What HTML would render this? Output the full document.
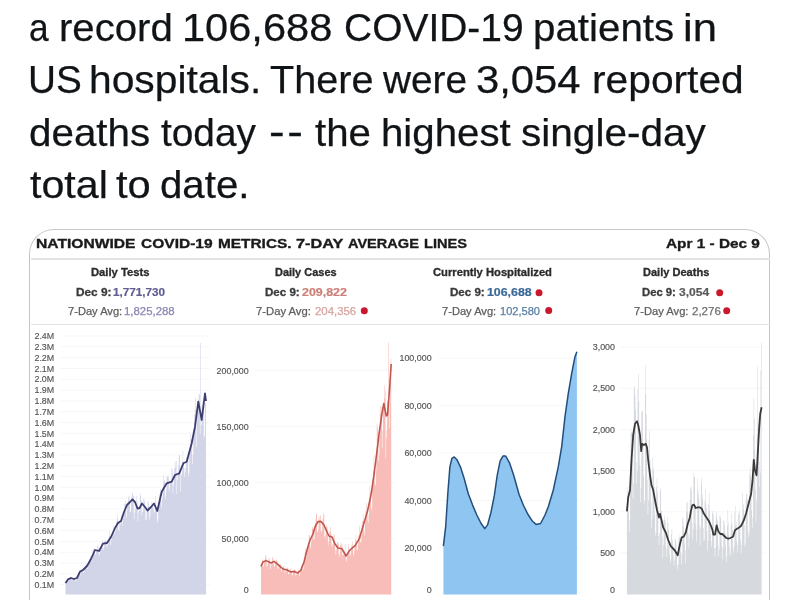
<!DOCTYPE html>
<html><head><meta charset="utf-8"><style>
html,body{margin:0;padding:0;background:#fff;}
body{width:800px;height:600px;overflow:hidden;position:relative;filter:blur(0.35px);}
.a{position:absolute;font-family:"Liberation Sans",sans-serif;white-space:nowrap;}
.card{position:absolute;left:29.1px;top:229.2px;width:738.9px;height:420px;border:1.9px solid #bdc6cb;border-top-color:#c6c9cb;border-radius:25px 25px 0 0;background:#fff;}
.sep{position:absolute;left:31px;width:739px;height:1.5px;background:#e3e3e3;}
#ch{position:absolute;left:0;top:0;}
</style></head><body>
<div class="card"></div>
<div class="sep" style="top:258px"></div>
<div class="sep" style="top:323.5px"></div>
<svg id="ch" width="800" height="600" viewBox="0 0 800 600"><g stroke="#f7f7f8" stroke-width="1"><line x1="60" x2="210" y1="336.0" y2="336.0"/><line x1="60" x2="210" y1="346.8" y2="346.8"/><line x1="60" x2="210" y1="357.6" y2="357.6"/><line x1="60" x2="210" y1="368.4" y2="368.4"/><line x1="60" x2="210" y1="379.2" y2="379.2"/><line x1="60" x2="210" y1="390.1" y2="390.1"/><line x1="60" x2="210" y1="400.9" y2="400.9"/><line x1="60" x2="210" y1="411.7" y2="411.7"/><line x1="60" x2="210" y1="422.5" y2="422.5"/><line x1="60" x2="210" y1="433.3" y2="433.3"/><line x1="60" x2="210" y1="444.1" y2="444.1"/><line x1="60" x2="210" y1="454.9" y2="454.9"/><line x1="60" x2="210" y1="465.7" y2="465.7"/><line x1="60" x2="210" y1="476.5" y2="476.5"/><line x1="60" x2="210" y1="487.3" y2="487.3"/><line x1="60" x2="210" y1="498.1" y2="498.1"/><line x1="60" x2="210" y1="509.0" y2="509.0"/><line x1="60" x2="210" y1="519.8" y2="519.8"/><line x1="60" x2="210" y1="530.6" y2="530.6"/><line x1="60" x2="210" y1="541.4" y2="541.4"/><line x1="60" x2="210" y1="552.2" y2="552.2"/><line x1="60" x2="210" y1="563.0" y2="563.0"/><line x1="60" x2="210" y1="573.8" y2="573.8"/><line x1="60" x2="210" y1="584.6" y2="584.6"/><line x1="255" x2="395" y1="370.5" y2="370.5"/><line x1="255" x2="395" y1="426.6" y2="426.6"/><line x1="255" x2="395" y1="482.7" y2="482.7"/><line x1="255" x2="395" y1="538.8" y2="538.8"/><line x1="438" x2="580" y1="358.2" y2="358.2"/><line x1="438" x2="580" y1="405.6" y2="405.6"/><line x1="438" x2="580" y1="453.0" y2="453.0"/><line x1="438" x2="580" y1="500.4" y2="500.4"/><line x1="438" x2="580" y1="547.8" y2="547.8"/><line x1="620" x2="765" y1="347.0" y2="347.0"/><line x1="620" x2="765" y1="388.2" y2="388.2"/><line x1="620" x2="765" y1="429.4" y2="429.4"/><line x1="620" x2="765" y1="470.6" y2="470.6"/><line x1="620" x2="765" y1="511.8" y2="511.8"/><line x1="620" x2="765" y1="553.0" y2="553.0"/></g>
<path d="M65.50,594.5V582.2H66.06V594.5ZM66.06,594.5V580.7H66.61V594.5ZM66.61,594.5V580.1H67.17V594.5ZM67.17,594.5V580.0H67.72V594.5ZM67.72,594.5V581.5H68.28V594.5ZM68.28,594.5V580.9H68.83V594.5ZM68.83,594.5V579.3H69.39V594.5ZM69.39,594.5V577.3H69.94V594.5ZM69.94,594.5V577.6H70.50V594.5ZM70.50,594.5V577.2H71.05V594.5ZM71.05,594.5V577.0H71.61V594.5ZM71.61,594.5V580.0H72.16V594.5ZM72.16,594.5V579.7H72.72V594.5ZM72.72,594.5V579.7H73.27V594.5ZM73.27,594.5V578.4H73.83V594.5ZM73.83,594.5V577.4H74.39V594.5ZM74.39,594.5V578.4H74.94V594.5ZM74.94,594.5V578.1H75.50V594.5ZM75.50,594.5V581.4H76.05V594.5ZM76.05,594.5V580.3H76.61V594.5ZM76.61,594.5V579.7H77.16V594.5ZM77.16,594.5V576.7H77.72V594.5ZM77.72,594.5V575.6H78.27V594.5ZM78.27,594.5V572.9H78.83V594.5ZM78.83,594.5V572.3H79.38V594.5ZM79.38,594.5V575.1H79.94V594.5ZM79.94,594.5V575.5H80.49V594.5ZM80.49,594.5V572.4H81.05V594.5ZM81.05,594.5V570.2H81.60V594.5ZM81.60,594.5V568.8H82.16V594.5ZM82.16,594.5V570.0H82.72V594.5ZM82.72,594.5V569.3H83.27V594.5ZM83.27,594.5V573.3H83.83V594.5ZM83.83,594.5V571.7H84.38V594.5ZM84.38,594.5V568.0H84.94V594.5ZM84.94,594.5V567.9H85.49V594.5ZM85.49,594.5V565.4H86.05V594.5ZM86.05,594.5V563.4H86.60V594.5ZM86.60,594.5V565.4H87.16V594.5ZM87.16,594.5V568.9H87.71V594.5ZM87.71,594.5V566.6H88.27V594.5ZM88.27,594.5V564.2H88.82V594.5ZM88.82,594.5V563.0H89.38V594.5ZM89.38,594.5V558.9H89.93V594.5ZM89.93,594.5V555.6H90.49V594.5ZM90.49,594.5V559.9H91.05V594.5ZM91.05,594.5V561.5H91.60V594.5ZM91.60,594.5V559.9H92.16V594.5ZM92.16,594.5V557.9H92.71V594.5ZM92.71,594.5V550.0H93.27V594.5ZM93.27,594.5V549.0H93.82V594.5ZM93.82,594.5V550.8H94.38V594.5ZM94.38,594.5V548.5H94.93V594.5ZM94.93,594.5V554.5H95.49V594.5ZM95.49,594.5V554.0H96.04V594.5ZM96.04,594.5V550.5H96.60V594.5ZM96.60,594.5V549.3H97.15V594.5ZM97.15,594.5V546.3H97.71V594.5ZM97.71,594.5V544.5H98.26V594.5ZM98.26,594.5V549.9H98.82V594.5ZM98.82,594.5V555.7H99.38V594.5ZM99.38,594.5V554.1H99.93V594.5ZM99.93,594.5V549.9H100.49V594.5ZM100.49,594.5V548.6H101.04V594.5ZM101.04,594.5V544.5H101.60V594.5ZM101.60,594.5V542.2H102.15V594.5ZM102.15,594.5V540.3H102.71V594.5ZM102.71,594.5V547.7H103.26V594.5ZM103.26,594.5V550.1H103.82V594.5ZM103.82,594.5V546.5H104.37V594.5ZM104.37,594.5V540.5H104.93V594.5ZM104.93,594.5V544.1H105.48V594.5ZM105.48,594.5V540.1H106.04V594.5ZM106.04,594.5V540.7H106.59V594.5ZM106.59,594.5V546.9H107.15V594.5ZM107.15,594.5V545.2H107.71V594.5ZM107.71,594.5V543.8H108.26V594.5ZM108.26,594.5V539.9H108.82V594.5ZM108.82,594.5V536.6H109.37V594.5ZM109.37,594.5V530.9H109.93V594.5ZM109.93,594.5V536.4H110.48V594.5ZM110.48,594.5V544.8H111.04V594.5ZM111.04,594.5V540.2H111.59V594.5ZM111.59,594.5V537.1H112.15V594.5ZM112.15,594.5V532.5H112.70V594.5ZM112.70,594.5V531.2H113.26V594.5ZM113.26,594.5V526.3H113.81V594.5ZM113.81,594.5V528.0H114.37V594.5ZM114.37,594.5V534.0H114.92V594.5ZM114.92,594.5V531.4H115.48V594.5ZM115.48,594.5V528.8H116.04V594.5ZM116.04,594.5V521.9H116.59V594.5ZM116.59,594.5V521.0H117.15V594.5ZM117.15,594.5V515.1H117.70V594.5ZM117.70,594.5V519.5H118.26V594.5ZM118.26,594.5V529.8H118.81V594.5ZM118.81,594.5V531.5H119.37V594.5ZM119.37,594.5V523.1H119.92V594.5ZM119.92,594.5V524.4H120.48V594.5ZM120.48,594.5V522.4H121.03V594.5ZM121.03,594.5V515.1H121.59V594.5ZM121.59,594.5V517.5H122.14V594.5ZM122.14,594.5V525.6H122.70V594.5ZM122.70,594.5V514.9H123.25V594.5ZM123.25,594.5V518.5H123.81V594.5ZM123.81,594.5V511.4H124.37V594.5ZM124.37,594.5V503.9H124.92V594.5ZM124.92,594.5V500.6H125.48V594.5ZM125.48,594.5V504.2H126.03V594.5ZM126.03,594.5V517.8H126.59V594.5ZM126.59,594.5V510.1H127.14V594.5ZM127.14,594.5V505.5H127.70V594.5ZM127.70,594.5V505.2H128.25V594.5ZM128.25,594.5V497.4H128.81V594.5ZM128.81,594.5V495.4H129.36V594.5ZM129.36,594.5V501.8H129.92V594.5ZM129.92,594.5V512.1H130.47V594.5ZM130.47,594.5V511.6H131.03V594.5ZM131.03,594.5V499.9H131.58V594.5ZM131.58,594.5V496.4H132.14V594.5ZM132.14,594.5V492.4H132.70V594.5ZM132.70,594.5V494.8H133.25V594.5ZM133.25,594.5V496.3H133.81V594.5ZM133.81,594.5V518.9H134.36V594.5ZM134.36,594.5V512.9H134.92V594.5ZM134.92,594.5V504.0H135.47V594.5ZM135.47,594.5V509.2H136.03V594.5ZM136.03,594.5V495.9H136.58V594.5ZM136.58,594.5V506.4H137.14V594.5ZM137.14,594.5V501.2H137.69V594.5ZM137.69,594.5V521.3H138.25V594.5ZM138.25,594.5V512.7H138.80V594.5ZM138.80,594.5V510.3H139.36V594.5ZM139.36,594.5V510.8H139.92V594.5ZM139.92,594.5V496.1H140.47V594.5ZM140.47,594.5V493.2H141.03V594.5ZM141.03,594.5V500.6H141.58V594.5ZM141.58,594.5V515.5H142.14V594.5ZM142.14,594.5V511.8H142.69V594.5ZM142.69,594.5V510.7H143.25V594.5ZM143.25,594.5V498.6H143.80V594.5ZM143.80,594.5V501.8H144.36V594.5ZM144.36,594.5V499.7H144.91V594.5ZM144.91,594.5V505.8H145.47V594.5ZM145.47,594.5V520.3H146.02V594.5ZM146.02,594.5V519.7H146.58V594.5ZM146.58,594.5V508.0H147.13V594.5ZM147.13,594.5V508.4H147.69V594.5ZM147.69,594.5V500.6H148.25V594.5ZM148.25,594.5V502.6H148.80V594.5ZM148.80,594.5V507.1H149.36V594.5ZM149.36,594.5V519.7H149.91V594.5ZM149.91,594.5V516.5H150.47V594.5ZM150.47,594.5V509.8H151.02V594.5ZM151.02,594.5V505.4H151.58V594.5ZM151.58,594.5V500.9H152.13V594.5ZM152.13,594.5V503.5H152.69V594.5ZM152.69,594.5V503.3H153.24V594.5ZM153.24,594.5V509.6H153.80V594.5ZM153.80,594.5V513.2H154.35V594.5ZM154.35,594.5V511.3H154.91V594.5ZM154.91,594.5V502.3H155.46V594.5ZM155.46,594.5V496.1H156.02V594.5ZM156.02,594.5V507.2H156.58V594.5ZM156.58,594.5V506.5H157.13V594.5ZM157.13,594.5V522.5H157.69V594.5ZM157.69,594.5V520.6H158.24V594.5ZM158.24,594.5V505.8H158.80V594.5ZM158.80,594.5V500.6H159.35V594.5ZM159.35,594.5V493.9H159.91V594.5ZM159.91,594.5V493.8H160.46V594.5ZM160.46,594.5V489.1H161.02V594.5ZM161.02,594.5V507.5H161.57V594.5ZM161.57,594.5V500.2H162.13V594.5ZM162.13,594.5V498.1H162.68V594.5ZM162.68,594.5V491.7H163.24V594.5ZM163.24,594.5V475.2H163.79V594.5ZM163.79,594.5V481.5H164.35V594.5ZM164.35,594.5V480.1H164.91V594.5ZM164.91,594.5V499.0H165.46V594.5ZM165.46,594.5V495.5H166.02V594.5ZM166.02,594.5V489.5H166.57V594.5ZM166.57,594.5V477.0H167.13V594.5ZM167.13,594.5V476.7H167.68V594.5ZM167.68,594.5V474.7H168.24V594.5ZM168.24,594.5V477.0H168.79V594.5ZM168.79,594.5V491.3H169.35V594.5ZM169.35,594.5V488.5H169.90V594.5ZM169.90,594.5V483.9H170.46V594.5ZM170.46,594.5V481.2H171.01V594.5ZM171.01,594.5V480.6H171.57V594.5ZM171.57,594.5V467.7H172.12V594.5ZM172.12,594.5V469.9H172.68V594.5ZM172.68,594.5V493.6H173.24V594.5ZM173.24,594.5V485.0H173.79V594.5ZM173.79,594.5V476.9H174.35V594.5ZM174.35,594.5V468.1H174.90V594.5ZM174.90,594.5V461.8H175.46V594.5ZM175.46,594.5V467.5H176.01V594.5ZM176.01,594.5V460.9H176.57V594.5ZM176.57,594.5V494.0H177.12V594.5ZM177.12,594.5V479.9H177.68V594.5ZM177.68,594.5V475.1H178.23V594.5ZM178.23,594.5V465.6H178.79V594.5ZM178.79,594.5V455.2H179.34V594.5ZM179.34,594.5V454.9H179.90V594.5ZM179.90,594.5V470.9H180.45V594.5ZM180.45,594.5V492.1H181.01V594.5ZM181.01,594.5V474.6H181.57V594.5ZM181.57,594.5V475.8H182.12V594.5ZM182.12,594.5V461.8H182.68V594.5ZM182.68,594.5V450.4H183.23V594.5ZM183.23,594.5V462.0H183.79V594.5ZM183.79,594.5V468.0H184.34V594.5ZM184.34,594.5V477.3H184.90V594.5ZM184.90,594.5V472.8H185.45V594.5ZM185.45,594.5V467.4H186.01V594.5ZM186.01,594.5V457.7H186.56V594.5ZM186.56,594.5V456.8H187.12V594.5ZM187.12,594.5V457.2H187.67V594.5ZM187.67,594.5V451.2H188.23V594.5ZM188.23,594.5V476.6H188.78V594.5ZM188.78,594.5V472.9H189.34V594.5ZM189.34,594.5V452.5H189.90V594.5ZM189.90,594.5V444.9H190.45V594.5ZM190.45,594.5V434.0H191.01V594.5ZM191.01,594.5V439.3H191.56V594.5ZM191.56,594.5V439.2H192.12V594.5ZM192.12,594.5V463.8H192.67V594.5ZM192.67,594.5V454.8H193.23V594.5ZM193.23,594.5V437.8H193.78V594.5ZM193.78,594.5V431.8H194.34V594.5ZM194.34,594.5V414.5H194.89V594.5ZM194.89,594.5V409.4H195.45V594.5ZM195.45,594.5V397.8H196.00V594.5ZM196.00,594.5V447.0H196.56V594.5ZM196.56,594.5V421.4H197.11V594.5ZM197.11,594.5V414.8H197.67V594.5ZM197.67,594.5V398.8H198.23V594.5ZM198.23,594.5V401.3H198.78V594.5ZM198.78,594.5V394.4H199.34V594.5ZM199.34,594.5V393.7H199.89V594.5ZM199.89,594.5V434.2H200.45V594.5ZM200.45,594.5V343.0H201.00V594.5ZM201.00,594.5V425.0H201.56V594.5ZM201.56,594.5V405.3H202.11V594.5ZM202.11,594.5V402.0H202.67V594.5ZM202.67,594.5V412.7H203.22V594.5ZM203.22,594.5V401.5H203.78V594.5ZM203.78,594.5V437.6H204.33V594.5ZM204.33,594.5V436.0H204.89V594.5ZM204.89,594.5V404.7H205.44V594.5ZM205.44,594.5V403.0H206.00V594.5Z" fill="#d2d4e8"/>
<path d="M261.00,594.5V564.6H261.51V594.5ZM261.51,594.5V563.3H262.03V594.5ZM262.03,594.5V560.6H262.54V594.5ZM262.54,594.5V559.3H263.06V594.5ZM263.06,594.5V566.6H263.57V594.5ZM263.57,594.5V566.2H264.09V594.5ZM264.09,594.5V562.8H264.60V594.5ZM264.60,594.5V559.7H265.12V594.5ZM265.12,594.5V556.3H265.63V594.5ZM265.63,594.5V555.1H266.15V594.5ZM266.15,594.5V558.8H266.66V594.5ZM266.66,594.5V567.2H267.18V594.5ZM267.18,594.5V565.3H267.69V594.5ZM267.69,594.5V563.7H268.20V594.5ZM268.20,594.5V558.9H268.72V594.5ZM268.72,594.5V560.6H269.23V594.5ZM269.23,594.5V557.9H269.75V594.5ZM269.75,594.5V560.9H270.26V594.5ZM270.26,594.5V569.0H270.78V594.5ZM270.78,594.5V565.5H271.29V594.5ZM271.29,594.5V562.2H271.81V594.5ZM271.81,594.5V561.8H272.32V594.5ZM272.32,594.5V557.8H272.84V594.5ZM272.84,594.5V556.8H273.35V594.5ZM273.35,594.5V563.6H273.87V594.5ZM273.87,594.5V566.2H274.38V594.5ZM274.38,594.5V566.5H274.89V594.5ZM274.89,594.5V563.4H275.41V594.5ZM275.41,594.5V562.8H275.92V594.5ZM275.92,594.5V560.2H276.44V594.5ZM276.44,594.5V559.3H276.95V594.5ZM276.95,594.5V560.7H277.47V594.5ZM277.47,594.5V568.5H277.98V594.5ZM277.98,594.5V568.9H278.50V594.5ZM278.50,594.5V564.7H279.01V594.5ZM279.01,594.5V565.2H279.53V594.5ZM279.53,594.5V563.9H280.04V594.5ZM280.04,594.5V565.1H280.56V594.5ZM280.56,594.5V563.9H281.07V594.5ZM281.07,594.5V570.7H281.58V594.5ZM281.58,594.5V570.9H282.10V594.5ZM282.10,594.5V568.8H282.61V594.5ZM282.61,594.5V567.7H283.13V594.5ZM283.13,594.5V566.3H283.64V594.5ZM283.64,594.5V566.0H284.16V594.5ZM284.16,594.5V568.3H284.67V594.5ZM284.67,594.5V573.2H285.19V594.5ZM285.19,594.5V571.8H285.70V594.5ZM285.70,594.5V570.2H286.22V594.5ZM286.22,594.5V568.9H286.73V594.5ZM286.73,594.5V568.2H287.25V594.5ZM287.25,594.5V567.6H287.76V594.5ZM287.76,594.5V567.7H288.28V594.5ZM288.28,594.5V573.9H288.79V594.5ZM288.79,594.5V574.3H289.30V594.5ZM289.30,594.5V572.5H289.82V594.5ZM289.82,594.5V571.7H290.33V594.5ZM290.33,594.5V569.6H290.85V594.5ZM290.85,594.5V567.9H291.36V594.5ZM291.36,594.5V571.1H291.88V594.5ZM291.88,594.5V575.4H292.39V594.5ZM292.39,594.5V575.0H292.91V594.5ZM292.91,594.5V572.4H293.42V594.5ZM293.42,594.5V572.1H293.94V594.5ZM293.94,594.5V569.4H294.45V594.5ZM294.45,594.5V569.4H294.97V594.5ZM294.97,594.5V569.9H295.48V594.5ZM295.48,594.5V576.0H295.99V594.5ZM295.99,594.5V575.0H296.51V594.5ZM296.51,594.5V572.1H297.02V594.5ZM297.02,594.5V572.1H297.54V594.5ZM297.54,594.5V571.3H298.05V594.5ZM298.05,594.5V569.4H298.57V594.5ZM298.57,594.5V571.1H299.08V594.5ZM299.08,594.5V575.9H299.60V594.5ZM299.60,594.5V574.0H300.11V594.5ZM300.11,594.5V569.7H300.63V594.5ZM300.63,594.5V569.4H301.14V594.5ZM301.14,594.5V566.6H301.66V594.5ZM301.66,594.5V565.1H302.17V594.5ZM302.17,594.5V564.4H302.68V594.5ZM302.68,594.5V570.5H303.20V594.5ZM303.20,594.5V569.0H303.71V594.5ZM303.71,594.5V561.8H304.23V594.5ZM304.23,594.5V560.0H304.74V594.5ZM304.74,594.5V552.6H305.26V594.5ZM305.26,594.5V547.9H305.77V594.5ZM305.77,594.5V551.4H306.29V594.5ZM306.29,594.5V557.4H306.80V594.5ZM306.80,594.5V553.1H307.32V594.5ZM307.32,594.5V550.3H307.83V594.5ZM307.83,594.5V545.6H308.35V594.5ZM308.35,594.5V542.6H308.86V594.5ZM308.86,594.5V535.6H309.37V594.5ZM309.37,594.5V535.3H309.89V594.5ZM309.89,594.5V546.1H310.40V594.5ZM310.40,594.5V548.3H310.92V594.5ZM310.92,594.5V541.8H311.43V594.5ZM311.43,594.5V535.5H311.95V594.5ZM311.95,594.5V528.9H312.46V594.5ZM312.46,594.5V526.7H312.98V594.5ZM312.98,594.5V529.6H313.49V594.5ZM313.49,594.5V540.2H314.01V594.5ZM314.01,594.5V539.3H314.52V594.5ZM314.52,594.5V530.5H315.04V594.5ZM315.04,594.5V523.2H315.55V594.5ZM315.55,594.5V518.9H316.06V594.5ZM316.06,594.5V513.2H316.58V594.5ZM316.58,594.5V514.6H317.09V594.5ZM317.09,594.5V532.1H317.61V594.5ZM317.61,594.5V531.9H318.12V594.5ZM318.12,594.5V529.2H318.64V594.5ZM318.64,594.5V517.4H319.15V594.5ZM319.15,594.5V520.5H319.67V594.5ZM319.67,594.5V515.9H320.18V594.5ZM320.18,594.5V515.2H320.70V594.5ZM320.70,594.5V530.6H321.21V594.5ZM321.21,594.5V532.5H321.73V594.5ZM321.73,594.5V530.2H322.24V594.5ZM322.24,594.5V521.4H322.75V594.5ZM322.75,594.5V518.9H323.27V594.5ZM323.27,594.5V512.6H323.78V594.5ZM323.78,594.5V515.0H324.30V594.5ZM324.30,594.5V536.0H324.81V594.5ZM324.81,594.5V538.7H325.33V594.5ZM325.33,594.5V534.3H325.84V594.5ZM325.84,594.5V527.5H326.36V594.5ZM326.36,594.5V525.3H326.87V594.5ZM326.87,594.5V526.8H327.39V594.5ZM327.39,594.5V529.9H327.90V594.5ZM327.90,594.5V545.7H328.42V594.5ZM328.42,594.5V541.4H328.93V594.5ZM328.93,594.5V536.0H329.45V594.5ZM329.45,594.5V531.3H329.96V594.5ZM329.96,594.5V531.8H330.47V594.5ZM330.47,594.5V527.1H330.99V594.5ZM330.99,594.5V534.2H331.50V594.5ZM331.50,594.5V546.3H332.02V594.5ZM332.02,594.5V546.3H332.53V594.5ZM332.53,594.5V543.8H333.05V594.5ZM333.05,594.5V541.1H333.56V594.5ZM333.56,594.5V534.1H334.08V594.5ZM334.08,594.5V535.6H334.59V594.5ZM334.59,594.5V540.6H335.11V594.5ZM335.11,594.5V550.3H335.62V594.5ZM335.62,594.5V555.0H336.14V594.5ZM336.14,594.5V549.3H336.65V594.5ZM336.65,594.5V544.3H337.16V594.5ZM337.16,594.5V541.7H337.68V594.5ZM337.68,594.5V542.2H338.19V594.5ZM338.19,594.5V543.8H338.71V594.5ZM338.71,594.5V554.8H339.22V594.5ZM339.22,594.5V556.7H339.74V594.5ZM339.74,594.5V551.9H340.25V594.5ZM340.25,594.5V545.1H340.77V594.5ZM340.77,594.5V543.1H341.28V594.5ZM341.28,594.5V546.3H341.80V594.5ZM341.80,594.5V544.0H342.31V594.5ZM342.31,594.5V555.6H342.83V594.5ZM342.83,594.5V554.9H343.34V594.5ZM343.34,594.5V554.0H343.85V594.5ZM343.85,594.5V551.4H344.37V594.5ZM344.37,594.5V551.5H344.88V594.5ZM344.88,594.5V544.2H345.40V594.5ZM345.40,594.5V553.7H345.91V594.5ZM345.91,594.5V559.5H346.43V594.5ZM346.43,594.5V561.4H346.94V594.5ZM346.94,594.5V555.6H347.46V594.5ZM347.46,594.5V554.6H347.97V594.5ZM347.97,594.5V549.2H348.49V594.5ZM348.49,594.5V544.0H349.00V594.5ZM349.00,594.5V551.2H349.52V594.5ZM349.52,594.5V555.4H350.03V594.5ZM350.03,594.5V555.5H350.54V594.5ZM350.54,594.5V552.9H351.06V594.5ZM351.06,594.5V548.0H351.57V594.5ZM351.57,594.5V544.7H352.09V594.5ZM352.09,594.5V541.5H352.60V594.5ZM352.60,594.5V546.2H353.12V594.5ZM353.12,594.5V555.5H353.63V594.5ZM353.63,594.5V553.8H354.15V594.5ZM354.15,594.5V549.9H354.66V594.5ZM354.66,594.5V546.3H355.18V594.5ZM355.18,594.5V540.2H355.69V594.5ZM355.69,594.5V535.2H356.21V594.5ZM356.21,594.5V544.1H356.72V594.5ZM356.72,594.5V550.3H357.23V594.5ZM357.23,594.5V550.3H357.75V594.5ZM357.75,594.5V545.0H358.26V594.5ZM358.26,594.5V535.9H358.78V594.5ZM358.78,594.5V534.9H359.29V594.5ZM359.29,594.5V526.1H359.81V594.5ZM359.81,594.5V535.1H360.32V594.5ZM360.32,594.5V542.6H360.84V594.5ZM360.84,594.5V541.8H361.35V594.5ZM361.35,594.5V535.3H361.87V594.5ZM361.87,594.5V525.0H362.38V594.5ZM362.38,594.5V521.3H362.90V594.5ZM362.90,594.5V514.3H363.41V594.5ZM363.41,594.5V520.7H363.92V594.5ZM363.92,594.5V535.8H364.44V594.5ZM364.44,594.5V531.3H364.95V594.5ZM364.95,594.5V521.8H365.47V594.5ZM365.47,594.5V511.1H365.98V594.5ZM365.98,594.5V510.8H366.50V594.5ZM366.50,594.5V502.7H367.01V594.5ZM367.01,594.5V513.9H367.53V594.5ZM367.53,594.5V520.6H368.04V594.5ZM368.04,594.5V522.8H368.56V594.5ZM368.56,594.5V514.7H369.07V594.5ZM369.07,594.5V499.1H369.59V594.5ZM369.59,594.5V486.1H370.10V594.5ZM370.10,594.5V490.9H370.62V594.5ZM370.62,594.5V494.9H371.13V594.5ZM371.13,594.5V510.5H371.64V594.5ZM371.64,594.5V508.0H372.16V594.5ZM372.16,594.5V488.4H372.67V594.5ZM372.67,594.5V481.3H373.19V594.5ZM373.19,594.5V470.6H373.70V594.5ZM373.70,594.5V455.1H374.22V594.5ZM374.22,594.5V468.7H374.73V594.5ZM374.73,594.5V484.1H375.25V594.5ZM375.25,594.5V485.6H375.76V594.5ZM375.76,594.5V470.5H376.28V594.5ZM376.28,594.5V459.7H376.79V594.5ZM376.79,594.5V424.2H377.31V594.5ZM377.31,594.5V427.6H377.82V594.5ZM377.82,594.5V432.8H378.33V594.5ZM378.33,594.5V461.5H378.85V594.5ZM378.85,594.5V455.2H379.36V594.5ZM379.36,594.5V436.1H379.88V594.5ZM379.88,594.5V406.1H380.39V594.5ZM380.39,594.5V413.3H380.91V594.5ZM380.91,594.5V407.0H381.42V594.5ZM381.42,594.5V414.2H381.94V594.5ZM381.94,594.5V447.9H382.45V594.5ZM382.45,594.5V430.6H382.97V594.5ZM382.97,594.5V408.2H383.48V594.5ZM383.48,594.5V403.8H384.00V594.5ZM384.00,594.5V398.4H384.51V594.5ZM384.51,594.5V385.3H385.02V594.5ZM385.02,594.5V391.0H385.54V594.5ZM385.54,594.5V458.0H386.05V594.5ZM386.05,594.5V437.7H386.57V594.5ZM386.57,594.5V430.1H387.08V594.5ZM387.08,594.5V400.2H387.60V594.5ZM387.60,594.5V400.9H388.11V594.5ZM388.11,594.5V342.5H388.63V594.5ZM388.63,594.5V400.3H389.14V594.5ZM389.14,594.5V428.3H389.66V594.5ZM389.66,594.5V402.8H390.17V594.5ZM390.17,594.5V377.4H390.69V594.5ZM390.69,594.5V359.0H391.20V594.5Z" fill="#f8bdb8"/>
<path d="M443.4,546.2 L445.7,526.3 L447.9,492.3 L449.9,466.8 L451.9,458.3 L454.2,456.9 L457.0,459.8 L460.4,466.8 L464.1,478.2 L468.3,493.8 L472.6,505.1 L476.8,515.0 L481.1,523.5 L484.8,528.6 L487.6,524.9 L491.0,512.2 L494.4,495.2 L497.2,475.3 L500.1,461.2 L502.9,456.1 L505.7,456.1 L509.4,462.6 L513.7,475.3 L519.0,494.3 L523.5,505.5 L528.0,514.5 L532.5,521.3 L536.1,524.4 L540.6,523.5 L545.0,515.0 L548.3,506.7 L553.3,490.0 L558.3,466.7 L561.7,446.7 L565.0,416.7 L568.3,393.3 L571.7,373.3 L575.0,356.7 L576.9,351.7 L576.9,594.5 L443.4,594.5 Z" fill="#8fc6f1"/>
<path d="M626.90,594.5V487.0H627.43V594.5ZM627.43,594.5V495.7H627.96V594.5ZM627.96,594.5V492.4H628.50V594.5ZM628.50,594.5V513.3H629.03V594.5ZM629.03,594.5V531.9H629.56V594.5ZM629.56,594.5V520.2H630.09V594.5ZM630.09,594.5V464.3H630.63V594.5ZM630.63,594.5V433.6H631.16V594.5ZM631.16,594.5V432.6H631.69V594.5ZM631.69,594.5V430.4H632.22V594.5ZM632.22,594.5V459.0H632.76V594.5ZM632.76,594.5V498.4H633.29V594.5ZM633.29,594.5V483.6H633.82V594.5ZM633.82,594.5V389.2H634.35V594.5ZM634.35,594.5V385.4H634.89V594.5ZM634.89,594.5V395.2H635.42V594.5ZM635.42,594.5V409.8H635.95V594.5ZM635.95,594.5V462.1H636.48V594.5ZM636.48,594.5V483.4H637.02V594.5ZM637.02,594.5V471.1H637.55V594.5ZM637.55,594.5V389.0H638.08V594.5ZM638.08,594.5V373.9H638.61V594.5ZM638.61,594.5V400.9H639.15V594.5ZM639.15,594.5V428.6H639.68V594.5ZM639.68,594.5V465.3H640.21V594.5ZM640.21,594.5V502.6H640.74V594.5ZM640.74,594.5V487.6H641.28V594.5ZM641.28,594.5V411.8H641.81V594.5ZM641.81,594.5V411.8H642.34V594.5ZM642.34,594.5V410.3H642.87V594.5ZM642.87,594.5V445.5H643.40V594.5ZM643.40,594.5V476.3H643.94V594.5ZM643.94,594.5V503.4H644.47V594.5ZM644.47,594.5V499.9H645.00V594.5ZM645.00,594.5V365.3H645.53V594.5ZM645.53,594.5V393.9H646.07V594.5ZM646.07,594.5V414.4H646.60V594.5ZM646.60,594.5V439.4H647.13V594.5ZM647.13,594.5V479.9H647.66V594.5ZM647.66,594.5V514.1H648.20V594.5ZM648.20,594.5V500.5H648.73V594.5ZM648.73,594.5V439.7H649.26V594.5ZM649.26,594.5V430.5H649.79V594.5ZM649.79,594.5V459.7H650.33V594.5ZM650.33,594.5V467.9H650.86V594.5ZM650.86,594.5V501.9H651.39V594.5ZM651.39,594.5V527.5H651.92V594.5ZM651.92,594.5V519.1H652.46V594.5ZM652.46,594.5V457.6H652.99V594.5ZM652.99,594.5V470.4H653.52V594.5ZM653.52,594.5V467.3H654.05V594.5ZM654.05,594.5V486.7H654.59V594.5ZM654.59,594.5V515.0H655.12V594.5ZM655.12,594.5V535.8H655.65V594.5ZM655.65,594.5V532.3H656.18V594.5ZM656.18,594.5V487.1H656.72V594.5ZM656.72,594.5V478.6H657.25V594.5ZM657.25,594.5V491.2H657.78V594.5ZM657.78,594.5V506.4H658.31V594.5ZM658.31,594.5V535.9H658.84V594.5ZM658.84,594.5V545.0H659.38V594.5ZM659.38,594.5V533.3H659.91V594.5ZM659.91,594.5V488.4H660.44V594.5ZM660.44,594.5V490.4H660.97V594.5ZM660.97,594.5V510.9H661.51V594.5ZM661.51,594.5V510.8H662.04V594.5ZM662.04,594.5V536.8H662.57V594.5ZM662.57,594.5V558.3H663.10V594.5ZM663.10,594.5V545.3H663.64V594.5ZM663.64,594.5V519.7H664.17V594.5ZM664.17,594.5V515.8H664.70V594.5ZM664.70,594.5V519.9H665.23V594.5ZM665.23,594.5V521.8H665.77V594.5ZM665.77,594.5V545.5H666.30V594.5ZM666.30,594.5V557.0H666.83V594.5ZM666.83,594.5V548.4H667.36V594.5ZM667.36,594.5V517.3H667.90V594.5ZM667.90,594.5V522.7H668.43V594.5ZM668.43,594.5V530.3H668.96V594.5ZM668.96,594.5V542.5H669.49V594.5ZM669.49,594.5V554.6H670.03V594.5ZM670.03,594.5V563.1H670.56V594.5ZM670.56,594.5V559.0H671.09V594.5ZM671.09,594.5V534.6H671.62V594.5ZM671.62,594.5V528.6H672.15V594.5ZM672.15,594.5V540.3H672.69V594.5ZM672.69,594.5V544.9H673.22V594.5ZM673.22,594.5V555.5H673.75V594.5ZM673.75,594.5V565.6H674.28V594.5ZM674.28,594.5V560.5H674.82V594.5ZM674.82,594.5V538.8H675.35V594.5ZM675.35,594.5V539.2H675.88V594.5ZM675.88,594.5V542.4H676.41V594.5ZM676.41,594.5V553.0H676.95V594.5ZM676.95,594.5V564.9H677.48V594.5ZM677.48,594.5V569.2H678.01V594.5ZM678.01,594.5V564.3H678.54V594.5ZM678.54,594.5V537.5H679.08V594.5ZM679.08,594.5V538.3H679.61V594.5ZM679.61,594.5V535.0H680.14V594.5ZM680.14,594.5V540.3H680.67V594.5ZM680.67,594.5V552.4H681.21V594.5ZM681.21,594.5V564.3H681.74V594.5ZM681.74,594.5V554.1H682.27V594.5ZM682.27,594.5V518.8H682.80V594.5ZM682.80,594.5V516.7H683.34V594.5ZM683.34,594.5V526.6H683.87V594.5ZM683.87,594.5V531.2H684.40V594.5ZM684.40,594.5V543.3H684.93V594.5ZM684.93,594.5V563.0H685.47V594.5ZM685.47,594.5V550.2H686.00V594.5ZM686.00,594.5V511.6H686.53V594.5ZM686.53,594.5V503.0H687.06V594.5ZM687.06,594.5V501.9H687.59V594.5ZM687.59,594.5V512.6H688.13V594.5ZM688.13,594.5V533.9H688.66V594.5ZM688.66,594.5V547.7H689.19V594.5ZM689.19,594.5V537.4H689.72V594.5ZM689.72,594.5V500.0H690.26V594.5ZM690.26,594.5V487.7H690.79V594.5ZM690.79,594.5V486.4H691.32V594.5ZM691.32,594.5V490.4H691.85V594.5ZM691.85,594.5V522.7H692.39V594.5ZM692.39,594.5V539.3H692.92V594.5ZM692.92,594.5V529.3H693.45V594.5ZM693.45,594.5V473.3H693.98V594.5ZM693.98,594.5V476.8H694.52V594.5ZM694.52,594.5V477.3H695.05V594.5ZM695.05,594.5V505.7H695.58V594.5ZM695.58,594.5V524.3H696.11V594.5ZM696.11,594.5V541.4H696.65V594.5ZM696.65,594.5V529.0H697.18V594.5ZM697.18,594.5V478.8H697.71V594.5ZM697.71,594.5V489.8H698.24V594.5ZM698.24,594.5V494.0H698.78V594.5ZM698.78,594.5V498.4H699.31V594.5ZM699.31,594.5V525.8H699.84V594.5ZM699.84,594.5V545.5H700.37V594.5ZM700.37,594.5V528.3H700.91V594.5ZM700.91,594.5V483.6H701.44V594.5ZM701.44,594.5V477.9H701.97V594.5ZM701.97,594.5V494.3H702.50V594.5ZM702.50,594.5V498.9H703.03V594.5ZM703.03,594.5V528.1H703.57V594.5ZM703.57,594.5V541.0H704.10V594.5ZM704.10,594.5V539.9H704.63V594.5ZM704.63,594.5V500.4H705.16V594.5ZM705.16,594.5V489.6H705.70V594.5ZM705.70,594.5V503.7H706.23V594.5ZM706.23,594.5V508.1H706.76V594.5ZM706.76,594.5V531.1H707.29V594.5ZM707.29,594.5V550.4H707.83V594.5ZM707.83,594.5V540.6H708.36V594.5ZM708.36,594.5V504.2H708.89V594.5ZM708.89,594.5V493.1H709.42V594.5ZM709.42,594.5V510.5H709.96V594.5ZM709.96,594.5V520.5H710.49V594.5ZM710.49,594.5V533.7H711.02V594.5ZM711.02,594.5V546.8H711.55V594.5ZM711.55,594.5V540.9H712.09V594.5ZM712.09,594.5V513.0H712.62V594.5ZM712.62,594.5V511.1H713.15V594.5ZM713.15,594.5V514.8H713.68V594.5ZM713.68,594.5V530.4H714.22V594.5ZM714.22,594.5V548.3H714.75V594.5ZM714.75,594.5V557.1H715.28V594.5ZM715.28,594.5V547.9H715.81V594.5ZM715.81,594.5V515.9H716.35V594.5ZM716.35,594.5V512.2H716.88V594.5ZM716.88,594.5V519.5H717.41V594.5ZM717.41,594.5V521.0H717.94V594.5ZM717.94,594.5V544.8H718.47V594.5ZM718.47,594.5V556.0H719.01V594.5ZM719.01,594.5V549.4H719.54V594.5ZM719.54,594.5V515.2H720.07V594.5ZM720.07,594.5V516.2H720.60V594.5ZM720.60,594.5V518.5H721.14V594.5ZM721.14,594.5V532.6H721.67V594.5ZM721.67,594.5V546.0H722.20V594.5ZM722.20,594.5V559.4H722.73V594.5ZM722.73,594.5V548.5H723.27V594.5ZM723.27,594.5V520.5H723.80V594.5ZM723.80,594.5V520.4H724.33V594.5ZM724.33,594.5V525.0H724.86V594.5ZM724.86,594.5V533.0H725.40V594.5ZM725.40,594.5V545.7H725.93V594.5ZM725.93,594.5V562.8H726.46V594.5ZM726.46,594.5V556.5H726.99V594.5ZM726.99,594.5V525.9H727.53V594.5ZM727.53,594.5V509.4H728.06V594.5ZM728.06,594.5V522.5H728.59V594.5ZM728.59,594.5V534.4H729.12V594.5ZM729.12,594.5V546.5H729.66V594.5ZM729.66,594.5V555.2H730.19V594.5ZM730.19,594.5V554.3H730.72V594.5ZM730.72,594.5V525.0H731.25V594.5ZM731.25,594.5V513.7H731.78V594.5ZM731.78,594.5V522.5H732.32V594.5ZM732.32,594.5V529.8H732.85V594.5ZM732.85,594.5V548.3H733.38V594.5ZM733.38,594.5V553.1H733.91V594.5ZM733.91,594.5V545.6H734.45V594.5ZM734.45,594.5V512.7H734.98V594.5ZM734.98,594.5V505.7H735.51V594.5ZM735.51,594.5V525.0H736.04V594.5ZM736.04,594.5V521.4H736.58V594.5ZM736.58,594.5V541.4H737.11V594.5ZM737.11,594.5V552.6H737.64V594.5ZM737.64,594.5V544.9H738.17V594.5ZM738.17,594.5V513.1H738.71V594.5ZM738.71,594.5V515.1H739.24V594.5ZM739.24,594.5V510.5H739.77V594.5ZM739.77,594.5V524.6H740.30V594.5ZM740.30,594.5V539.7H740.84V594.5ZM740.84,594.5V553.5H741.37V594.5ZM741.37,594.5V545.3H741.90V594.5ZM741.90,594.5V518.3H742.43V594.5ZM742.43,594.5V492.8H742.97V594.5ZM742.97,594.5V504.2H743.50V594.5ZM743.50,594.5V509.3H744.03V594.5ZM744.03,594.5V525.1H744.56V594.5ZM744.56,594.5V546.5H745.10V594.5ZM745.10,594.5V543.8H745.63V594.5ZM745.63,594.5V499.2H746.16V594.5ZM746.16,594.5V493.7H746.69V594.5ZM746.69,594.5V494.6H747.22V594.5ZM747.22,594.5V500.6H747.76V594.5ZM747.76,594.5V530.6H748.29V594.5ZM748.29,594.5V537.1H748.82V594.5ZM748.82,594.5V533.7H749.35V594.5ZM749.35,594.5V473.8H749.89V594.5ZM749.89,594.5V467.4H750.42V594.5ZM750.42,594.5V476.1H750.95V594.5ZM750.95,594.5V485.2H751.48V594.5ZM751.48,594.5V509.9H752.02V594.5ZM752.02,594.5V527.8H752.55V594.5ZM752.55,594.5V517.6H753.08V594.5ZM753.08,594.5V435.6H753.61V594.5ZM753.61,594.5V398.2H754.15V594.5ZM754.15,594.5V418.5H754.68V594.5ZM754.68,594.5V449.5H755.21V594.5ZM755.21,594.5V489.7H755.74V594.5ZM755.74,594.5V522.6H756.28V594.5ZM756.28,594.5V500.7H756.81V594.5ZM756.81,594.5V434.6H757.34V594.5ZM757.34,594.5V366.7H757.87V594.5ZM757.87,594.5V417.9H758.41V594.5ZM758.41,594.5V423.5H758.94V594.5ZM758.94,594.5V461.8H759.47V594.5ZM759.47,594.5V487.3H760.00V594.5ZM760.00,594.5V472.8H760.54V594.5ZM760.54,594.5V370.4H761.07V594.5ZM761.07,594.5V342.8H761.60V594.5Z" fill="#d6d9de"/>
<path d="M65.5,583.0 L68.0,579.4 L71.0,578.0 L74.0,579.0 L77.0,578.0 L80.0,571.6 L83.0,570.0 L87.0,566.0 L91.0,559.0 L95.0,550.0 L99.0,551.0 L103.0,543.6 L107.0,543.0 L111.0,537.0 L115.0,528.0 L118.0,523.0 L121.0,521.0 L124.0,512.0 L127.0,505.0 L130.0,502.0 L132.4,499.4 L135.0,502.0 L137.5,508.5 L139.6,508.0 L142.0,503.5 L145.0,507.0 L147.5,510.5 L151.0,507.0 L154.0,503.5 L157.3,511.0 L161.7,491.7 L166.7,483.3 L171.7,481.7 L175.0,475.0 L179.3,473.3 L183.3,463.3 L186.7,461.7 L191.7,443.3 L195.0,426.7 L198.3,401.7 L201.7,420.0 L205.0,393.3 L206.0,401.0" fill="none" stroke="#3d3d70" stroke-width="1.8" stroke-linejoin="round"/>
<path d="M261.0,566.4 L263.0,562.0 L266.0,560.6 L269.0,562.0 L271.0,563.0 L274.0,561.4 L277.0,563.6 L280.0,566.4 L283.0,569.0 L287.0,570.0 L291.0,572.0 L294.0,571.4 L298.0,573.0 L301.0,570.0 L304.0,562.0 L307.0,550.0 L310.0,540.0 L313.0,534.0 L315.0,527.0 L318.0,521.6 L321.0,521.4 L324.0,525.0 L327.0,532.0 L329.0,536.0 L332.0,537.0 L335.0,544.0 L338.0,548.0 L342.0,548.8 L346.0,556.0 L350.0,550.0 L355.3,545.3 L359.3,538.7 L363.3,525.3 L367.3,512.0 L371.3,493.3 L374.0,474.7 L376.7,453.3 L379.3,432.0 L382.0,413.3 L383.8,403.5 L386.3,416.0 L387.5,415.0 L389.3,392.5 L391.2,364.0" fill="none" stroke="#c0574e" stroke-width="1.6" stroke-linejoin="round"/>
<path d="M443.4,546.2 L445.7,526.3 L447.9,492.3 L449.9,466.8 L451.9,458.3 L454.2,456.9 L457.0,459.8 L460.4,466.8 L464.1,478.2 L468.3,493.8 L472.6,505.1 L476.8,515.0 L481.1,523.5 L484.8,528.6 L487.6,524.9 L491.0,512.2 L494.4,495.2 L497.2,475.3 L500.1,461.2 L502.9,456.1 L505.7,456.1 L509.4,462.6 L513.7,475.3 L519.0,494.3 L523.5,505.5 L528.0,514.5 L532.5,521.3 L536.1,524.4 L540.6,523.5 L545.0,515.0 L548.3,506.7 L553.3,490.0 L558.3,466.7 L561.7,446.7 L565.0,416.7 L568.3,393.3 L571.7,373.3 L575.0,356.7 L576.9,351.7" fill="none" stroke="#234e7c" stroke-width="1.5" stroke-linejoin="round"/>
<path d="M626.9,511.3 L628.2,497.5 L630.0,490.0 L631.5,460.0 L633.2,435.0 L635.0,423.8 L637.0,421.2 L638.2,425.0 L640.0,435.0 L641.2,451.2 L642.0,443.8 L644.0,445.0 L645.8,443.8 L647.0,447.5 L648.2,460.0 L650.0,475.0 L651.5,485.0 L653.2,490.0 L655.0,500.0 L657.0,510.0 L659.0,517.5 L660.0,513.8 L661.5,520.0 L663.2,527.5 L665.8,532.5 L668.2,540.0 L670.8,546.2 L674.5,550.0 L677.7,555.3 L679.7,545.3 L681.7,537.3 L683.7,536.7 L685.7,532.7 L687.7,524.0 L689.7,518.0 L691.0,510.7 L692.3,505.3 L694.0,504.7 L695.7,508.0 L697.7,507.3 L699.7,507.3 L701.7,508.7 L703.7,513.3 L706.3,517.3 L709.0,521.3 L711.0,526.0 L712.3,529.3 L713.4,534.7 L715.0,534.7 L716.6,525.3 L718.3,531.3 L720.3,534.0 L722.3,534.0 L724.3,536.0 L726.3,538.0 L728.3,538.7 L730.3,538.0 L733.0,536.7 L735.1,530.0 L738.3,528.1 L741.0,526.0 L743.7,520.7 L746.3,512.7 L749.0,502.0 L751.1,494.0 L752.5,480.7 L753.8,459.9 L754.9,470.0 L756.5,475.3 L757.5,459.3 L758.9,432.7 L760.2,414.0 L761.6,407.3" fill="none" stroke="#3a3a3a" stroke-width="1.8" stroke-linejoin="round"/>
<g font-family="Liberation Sans, sans-serif" font-size="8.9" fill="#555" stroke="#555" stroke-width="0.15" text-anchor="end"><text x="54.2" y="339.2">2.4M</text><text x="54.2" y="350.0">2.3M</text><text x="54.2" y="360.8">2.2M</text><text x="54.2" y="371.6">2.1M</text><text x="54.2" y="382.4">2.0M</text><text x="54.2" y="393.2">1.9M</text><text x="54.2" y="404.1">1.8M</text><text x="54.2" y="414.9">1.7M</text><text x="54.2" y="425.7">1.6M</text><text x="54.2" y="436.5">1.5M</text><text x="54.2" y="447.3">1.4M</text><text x="54.2" y="458.1">1.3M</text><text x="54.2" y="468.9">1.2M</text><text x="54.2" y="479.7">1.1M</text><text x="54.2" y="490.5">1.0M</text><text x="54.2" y="501.3">0.9M</text><text x="54.2" y="512.2">0.8M</text><text x="54.2" y="523.0">0.7M</text><text x="54.2" y="533.8">0.6M</text><text x="54.2" y="544.6">0.5M</text><text x="54.2" y="555.4">0.4M</text><text x="54.2" y="566.2">0.3M</text><text x="54.2" y="577.0">0.2M</text><text x="54.2" y="587.8">0.1M</text><text x="248.7" y="373.7">200,000</text><text x="248.7" y="429.8">150,000</text><text x="248.7" y="485.9">100,000</text><text x="248.7" y="542.0">50,000</text><text x="248.7" y="593">0</text><text x="431.6" y="361.4">100,000</text><text x="431.6" y="408.8">80,000</text><text x="431.6" y="456.2">60,000</text><text x="431.6" y="503.6">40,000</text><text x="431.6" y="551.0">20,000</text><text x="431.8" y="592.9">0</text><text x="615" y="350.2">3,000</text><text x="615" y="391.4">2,500</text><text x="615" y="432.6">2,000</text><text x="615" y="473.8">1,500</text><text x="615" y="515.0">1,000</text><text x="615" y="556.2">500</text><text x="615" y="593">0</text></g>
<circle cx="364.3" cy="310.7" r="3.5" fill="#c9172b"/>
<circle cx="539" cy="292.8" r="3.5" fill="#c9172b"/>
<circle cx="548.7" cy="310.5" r="3.5" fill="#c9172b"/>
<circle cx="719.7" cy="292.7" r="3.5" fill="#c9172b"/>
<circle cx="726.7" cy="310.7" r="3.5" fill="#c9172b"/></svg>
<span class="a" style="left:29.31px;top:7.96px;font-size:39.5px;color:#111417;-webkit-text-stroke:0.25px #111417;line-height:39.5px;letter-spacing:0.000px;transform:scaleX(0.8950);transform-origin:0 0">a</span>
<span class="a" style="left:59.47px;top:7.96px;font-size:39.5px;color:#111417;-webkit-text-stroke:0.25px #111417;line-height:39.5px;letter-spacing:0.000px;transform:scaleX(1.0162);transform-origin:0 0">record</span>
<span class="a" style="left:181.59px;top:7.96px;font-size:39.5px;color:#111417;-webkit-text-stroke:0.25px #111417;line-height:39.5px;letter-spacing:0.000px;transform:scaleX(1.0525);transform-origin:0 0">106,688</span>
<span class="a" style="left:343.53px;top:7.96px;font-size:39.5px;color:#111417;-webkit-text-stroke:0.25px #111417;line-height:39.5px;letter-spacing:0.000px;transform:scaleX(0.9860);transform-origin:0 0">COVID-19</span>
<span class="a" style="left:533.46px;top:7.96px;font-size:39.5px;color:#111417;-webkit-text-stroke:0.25px #111417;line-height:39.5px;letter-spacing:0.000px;transform:scaleX(1.0204);transform-origin:0 0">patients</span>
<span class="a" style="left:682.79px;top:7.96px;font-size:39.5px;color:#111417;-webkit-text-stroke:0.25px #111417;line-height:39.5px;letter-spacing:0.000px;transform:scaleX(1.1058);transform-origin:0 0">in</span>
<span class="a" style="left:28.06px;top:60.46px;font-size:39.5px;color:#111417;-webkit-text-stroke:0.25px #111417;line-height:39.5px;letter-spacing:0.000px;transform:scaleX(0.9800);transform-origin:0 0">US</span>
<span class="a" style="left:89.40px;top:60.46px;font-size:39.5px;color:#111417;-webkit-text-stroke:0.25px #111417;line-height:39.5px;letter-spacing:0.000px;transform:scaleX(1.0326);transform-origin:0 0">hospitals.</span>
<span class="a" style="left:270.25px;top:60.46px;font-size:39.5px;color:#111417;-webkit-text-stroke:0.25px #111417;line-height:39.5px;letter-spacing:0.000px;transform:scaleX(1.0025);transform-origin:0 0">There</span>
<span class="a" style="left:383.00px;top:60.46px;font-size:39.5px;color:#111417;-webkit-text-stroke:0.25px #111417;line-height:39.5px;letter-spacing:0.000px;transform:scaleX(0.9821);transform-origin:0 0">were</span>
<span class="a" style="left:476.39px;top:60.46px;font-size:39.5px;color:#111417;-webkit-text-stroke:0.25px #111417;line-height:39.5px;letter-spacing:0.000px;transform:scaleX(1.0573);transform-origin:0 0">3,054</span>
<span class="a" style="left:591.69px;top:60.46px;font-size:39.5px;color:#111417;-webkit-text-stroke:0.25px #111417;line-height:39.5px;letter-spacing:0.000px;transform:scaleX(1.0315);transform-origin:0 0">reported</span>
<span class="a" style="left:29.21px;top:113.16px;font-size:39.5px;color:#111417;-webkit-text-stroke:0.25px #111417;line-height:39.5px;letter-spacing:0.000px;transform:scaleX(1.0217);transform-origin:0 0">deaths</span>
<span class="a" style="left:161.25px;top:113.16px;font-size:39.5px;color:#111417;-webkit-text-stroke:0.25px #111417;line-height:39.5px;letter-spacing:0.000px;transform:scaleX(0.9820);transform-origin:0 0">today</span>
<span class="a" style="left:268.62px;top:112.36px;font-size:39.5px;color:#111417;-webkit-text-stroke:0.25px #111417;line-height:39.5px;letter-spacing:2.250px;transform:scaleX(1.19);transform-origin:0 0">--</span>
<span class="a" style="left:315.00px;top:113.16px;font-size:39.5px;color:#111417;-webkit-text-stroke:0.25px #111417;line-height:39.5px;letter-spacing:0.000px;transform:scaleX(1.0189);transform-origin:0 0">the</span>
<span class="a" style="left:380.70px;top:113.16px;font-size:39.5px;color:#111417;-webkit-text-stroke:0.25px #111417;line-height:39.5px;letter-spacing:0.000px;transform:scaleX(1.0181);transform-origin:0 0">highest</span>
<span class="a" style="left:521.47px;top:113.16px;font-size:39.5px;color:#111417;-webkit-text-stroke:0.25px #111417;line-height:39.5px;letter-spacing:0.000px;transform:scaleX(1.0265);transform-origin:0 0">single-day</span>
<span class="a" style="left:30.00px;top:165.06px;font-size:39.5px;color:#111417;-webkit-text-stroke:0.25px #111417;line-height:39.5px;letter-spacing:0.000px;transform:scaleX(1.0417);transform-origin:0 0">total</span>
<span class="a" style="left:116.25px;top:165.06px;font-size:39.5px;color:#111417;-webkit-text-stroke:0.25px #111417;line-height:39.5px;letter-spacing:0.000px;transform:scaleX(1.0547);transform-origin:0 0">to</span>
<span class="a" style="left:160.46px;top:165.06px;font-size:39.5px;color:#111417;-webkit-text-stroke:0.25px #111417;line-height:39.5px;letter-spacing:0.000px;transform:scaleX(1.0181);transform-origin:0 0">date.</span>
<span class="a" style="left:36.15px;top:237.29px;font-size:13.6px;font-weight:bold;color:#1a1a1a;-webkit-text-stroke:0.35px #1a1a1a;line-height:13.6px;letter-spacing:0.000px;transform:scaleX(1.1494);transform-origin:0 0">NATIONWIDE</span>
<span class="a" style="left:140.80px;top:237.29px;font-size:13.6px;font-weight:bold;color:#1a1a1a;-webkit-text-stroke:0.35px #1a1a1a;line-height:13.6px;letter-spacing:0.000px;transform:scaleX(1.1421);transform-origin:0 0">COVID-19</span>
<span class="a" style="left:217.62px;top:237.29px;font-size:13.6px;font-weight:bold;color:#1a1a1a;-webkit-text-stroke:0.35px #1a1a1a;line-height:13.6px;letter-spacing:0.000px;transform:scaleX(1.1325);transform-origin:0 0">METRICS.</span>
<span class="a" style="left:295.75px;top:237.29px;font-size:13.6px;font-weight:bold;color:#1a1a1a;-webkit-text-stroke:0.35px #1a1a1a;line-height:13.6px;letter-spacing:0.000px;transform:scaleX(1.1962);transform-origin:0 0">7-DAY</span>
<span class="a" style="left:348.40px;top:237.29px;font-size:13.6px;font-weight:bold;color:#1a1a1a;-webkit-text-stroke:0.35px #1a1a1a;line-height:13.6px;letter-spacing:0.000px;transform:scaleX(1.0697);transform-origin:0 0">AVERAGE</span>
<span class="a" style="left:423.93px;top:237.29px;font-size:13.6px;font-weight:bold;color:#1a1a1a;-webkit-text-stroke:0.35px #1a1a1a;line-height:13.6px;letter-spacing:0.000px;transform:scaleX(1.0718);transform-origin:0 0">LINES</span>
<span class="a" style="left:666.20px;top:237.29px;font-size:13.6px;font-weight:bold;color:#1a1a1a;-webkit-text-stroke:0.35px #1a1a1a;line-height:13.6px;letter-spacing:0.000px;transform:scaleX(1.1301);transform-origin:0 0">Apr 1 - Dec 9</span>
<span class="a" style="left:91.43px;top:266.91px;font-size:10.5px;font-weight:bold;color:#2b2b2b;-webkit-text-stroke:0.3px #2b2b2b;line-height:10.5px;letter-spacing:0.000px;transform:scaleX(1.0708);transform-origin:0 0">Daily Tests</span>
<span class="a" style="left:76.07px;top:287.01px;font-size:10.5px;font-weight:bold;color:#3a3a3a;-webkit-text-stroke:0.3px #3a3a3a;line-height:10.5px;letter-spacing:0.000px;transform:scaleX(1.1267);transform-origin:0 0">Dec 9:</span>
<span class="a" style="left:112.88px;top:287.01px;font-size:10.5px;font-weight:bold;color:#5f5d92;-webkit-text-stroke:0.2px #5f5d92;line-height:10.5px;letter-spacing:0.000px;transform:scaleX(1.1156);transform-origin:0 0">1,771,730</span>
<span class="a" style="left:67.50px;top:305.91px;font-size:10.5px;color:#5e5e5e;-webkit-text-stroke:0.25px #5e5e5e;line-height:10.5px;letter-spacing:0.000px;transform:scaleX(1.0588);transform-origin:0 0">7-Day Avg:</span>
<span class="a" style="left:124.12px;top:305.91px;font-size:10.5px;color:#8886b2;-webkit-text-stroke:0.25px #8886b2;line-height:10.5px;letter-spacing:0.000px;transform:scaleX(1.0844);transform-origin:0 0">1,825,288</span>
<span class="a" style="left:275.16px;top:266.91px;font-size:10.5px;font-weight:bold;color:#2b2b2b;-webkit-text-stroke:0.3px #2b2b2b;line-height:10.5px;letter-spacing:0.000px;transform:scaleX(1.0448);transform-origin:0 0">Daily Cases</span>
<span class="a" style="left:264.60px;top:287.01px;font-size:10.5px;font-weight:bold;color:#3a3a3a;-webkit-text-stroke:0.3px #3a3a3a;line-height:10.5px;letter-spacing:0.000px;transform:scaleX(1.1000);transform-origin:0 0">Dec 9:</span>
<span class="a" style="left:301.70px;top:287.01px;font-size:10.5px;font-weight:bold;color:#cd8079;-webkit-text-stroke:0.2px #cd8079;line-height:10.5px;letter-spacing:0.000px;transform:scaleX(1.1842);transform-origin:0 0">209,822</span>
<span class="a" style="left:256.00px;top:305.91px;font-size:10.5px;color:#5e5e5e;-webkit-text-stroke:0.25px #5e5e5e;line-height:10.5px;letter-spacing:0.000px;transform:scaleX(1.0725);transform-origin:0 0">7-Day Avg:</span>
<span class="a" style="left:314.50px;top:305.91px;font-size:10.5px;color:#d6a39e;-webkit-text-stroke:0.25px #d6a39e;line-height:10.5px;letter-spacing:0.000px;transform:scaleX(1.0842);transform-origin:0 0">204,356</span>
<span class="a" style="left:432.50px;top:266.91px;font-size:10.5px;font-weight:bold;color:#2b2b2b;-webkit-text-stroke:0.3px #2b2b2b;line-height:10.5px;letter-spacing:0.000px;transform:scaleX(1.0676);transform-origin:0 0">Currently Hospitalized</span>
<span class="a" style="left:450.10px;top:287.01px;font-size:10.5px;font-weight:bold;color:#3a3a3a;-webkit-text-stroke:0.3px #3a3a3a;line-height:10.5px;letter-spacing:0.000px;transform:scaleX(1.1000);transform-origin:0 0">Dec 9:</span>
<span class="a" style="left:486.82px;top:287.01px;font-size:10.5px;font-weight:bold;color:#3b6a98;-webkit-text-stroke:0.2px #3b6a98;line-height:10.5px;letter-spacing:0.000px;transform:scaleX(1.1757);transform-origin:0 0">106,688</span>
<span class="a" style="left:442.20px;top:305.91px;font-size:10.5px;color:#5e5e5e;-webkit-text-stroke:0.25px #5e5e5e;line-height:10.5px;letter-spacing:0.000px;transform:scaleX(1.0588);transform-origin:0 0">7-Day Avg:</span>
<span class="a" style="left:499.65px;top:305.91px;font-size:10.5px;color:#5a80a6;-webkit-text-stroke:0.25px #5a80a6;line-height:10.5px;letter-spacing:0.000px;transform:scaleX(1.0541);transform-origin:0 0">102,580</span>
<span class="a" style="left:642.95px;top:266.91px;font-size:10.5px;font-weight:bold;color:#2b2b2b;-webkit-text-stroke:0.3px #2b2b2b;line-height:10.5px;letter-spacing:0.000px;transform:scaleX(1.0516);transform-origin:0 0">Daily Deaths</span>
<span class="a" style="left:641.93px;top:287.01px;font-size:10.5px;font-weight:bold;color:#3a3a3a;-webkit-text-stroke:0.3px #3a3a3a;line-height:10.5px;letter-spacing:0.000px;transform:scaleX(1.0733);transform-origin:0 0">Dec 9:</span>
<span class="a" style="left:679.30px;top:287.01px;font-size:10.5px;font-weight:bold;color:#5a5a5a;-webkit-text-stroke:0.2px #5a5a5a;line-height:10.5px;letter-spacing:0.000px;transform:scaleX(1.1444);transform-origin:0 0">3,054</span>
<span class="a" style="left:633.70px;top:305.91px;font-size:10.5px;color:#5e5e5e;-webkit-text-stroke:0.25px #5e5e5e;line-height:10.5px;letter-spacing:0.000px;transform:scaleX(1.0647);transform-origin:0 0">7-Day Avg:</span>
<span class="a" style="left:691.70px;top:305.91px;font-size:10.5px;color:#707070;-webkit-text-stroke:0.25px #707070;line-height:10.5px;letter-spacing:0.000px;transform:scaleX(1.0962);transform-origin:0 0">2,276</span>
</body></html>
